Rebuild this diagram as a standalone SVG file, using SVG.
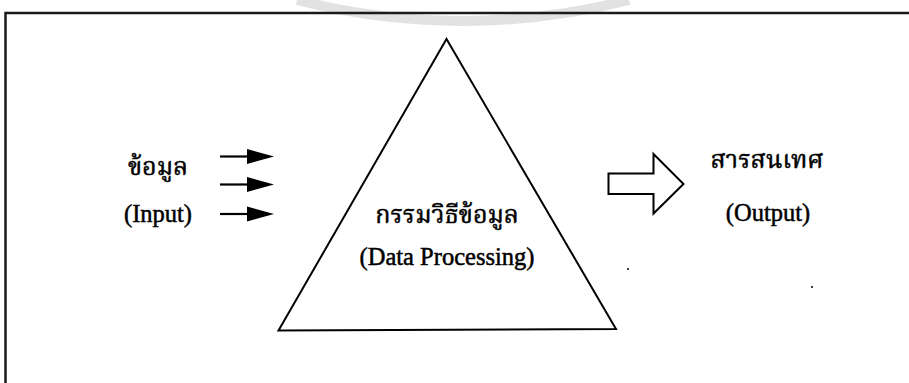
<svg xmlns="http://www.w3.org/2000/svg" width="909" height="383" viewBox="0 0 909 383">
  <style>
    .frame { stroke: #1a1a1a; stroke-width: 2.5; fill: none; }
    .shape { stroke: #000; stroke-width: 2; fill: #fff; stroke-linejoin: miter; }
    .shaft { stroke: #000; stroke-width: 2.2; fill: none; }
    .head { fill: #000; stroke: none; }
    .txt { font-family: "Liberation Serif", "Noto Serif Thai", "Noto Sans Thai", serif; fill: #000; stroke: #000; stroke-width: 0.5; }
    .th { font-size: 25px; }
    .en { font-size: 24.5px; }
  </style>
  <rect width="909" height="383" fill="#fff"/>
  <path d="M 297 0 A 667 667 0 0 0 629 0" fill="none" stroke="#e2e2e2" stroke-width="10"/>
  <g id="frame">
    <path class="frame" d="M 5.5 383 L 5.5 13 L 909 13"/>
  </g>
  <g id="input">
    <text class="txt th" x="158" y="175" text-anchor="middle">ข้อมูล</text>
    <text class="txt en" x="158" y="222" text-anchor="middle">(Input)</text>
  </g>
  <g id="process">
    <polygon class="shape" points="446.5,39 278.5,330.5 616,329"/>
    <text class="txt th" x="447" y="223" text-anchor="middle">กรรมวิธีข้อมูล</text>
    <text class="txt en" x="447" y="265" text-anchor="middle">(Data Processing)</text>
  </g>
  <g id="output">
    <text class="txt th" x="767" y="168" text-anchor="middle">สารสนเทศ</text>
    <text class="txt en" x="768" y="221" text-anchor="middle">(Output)</text>
  </g>
  <g id="connectors">
    <line class="shaft" x1="220" y1="156.5" x2="250" y2="156.5"/>
    <polygon class="head" points="247,149 274,156.5 247,164"/>
    <line class="shaft" x1="220" y1="184.5" x2="250" y2="184.5"/>
    <polygon class="head" points="247,177 274,184.5 247,192"/>
    <line class="shaft" x1="220" y1="214" x2="250" y2="214"/>
    <polygon class="head" points="247,206.5 274,214 247,221.5"/>
    <polygon class="shape" points="608.5,173.5 653.5,173.5 653.5,154 683.5,184 653.5,213.5 653.5,194 608.5,194"/>
  </g>
  <circle cx="628" cy="269" r="1" fill="#000"/>
  <circle cx="812" cy="287" r="1" fill="#000"/>
</svg>
